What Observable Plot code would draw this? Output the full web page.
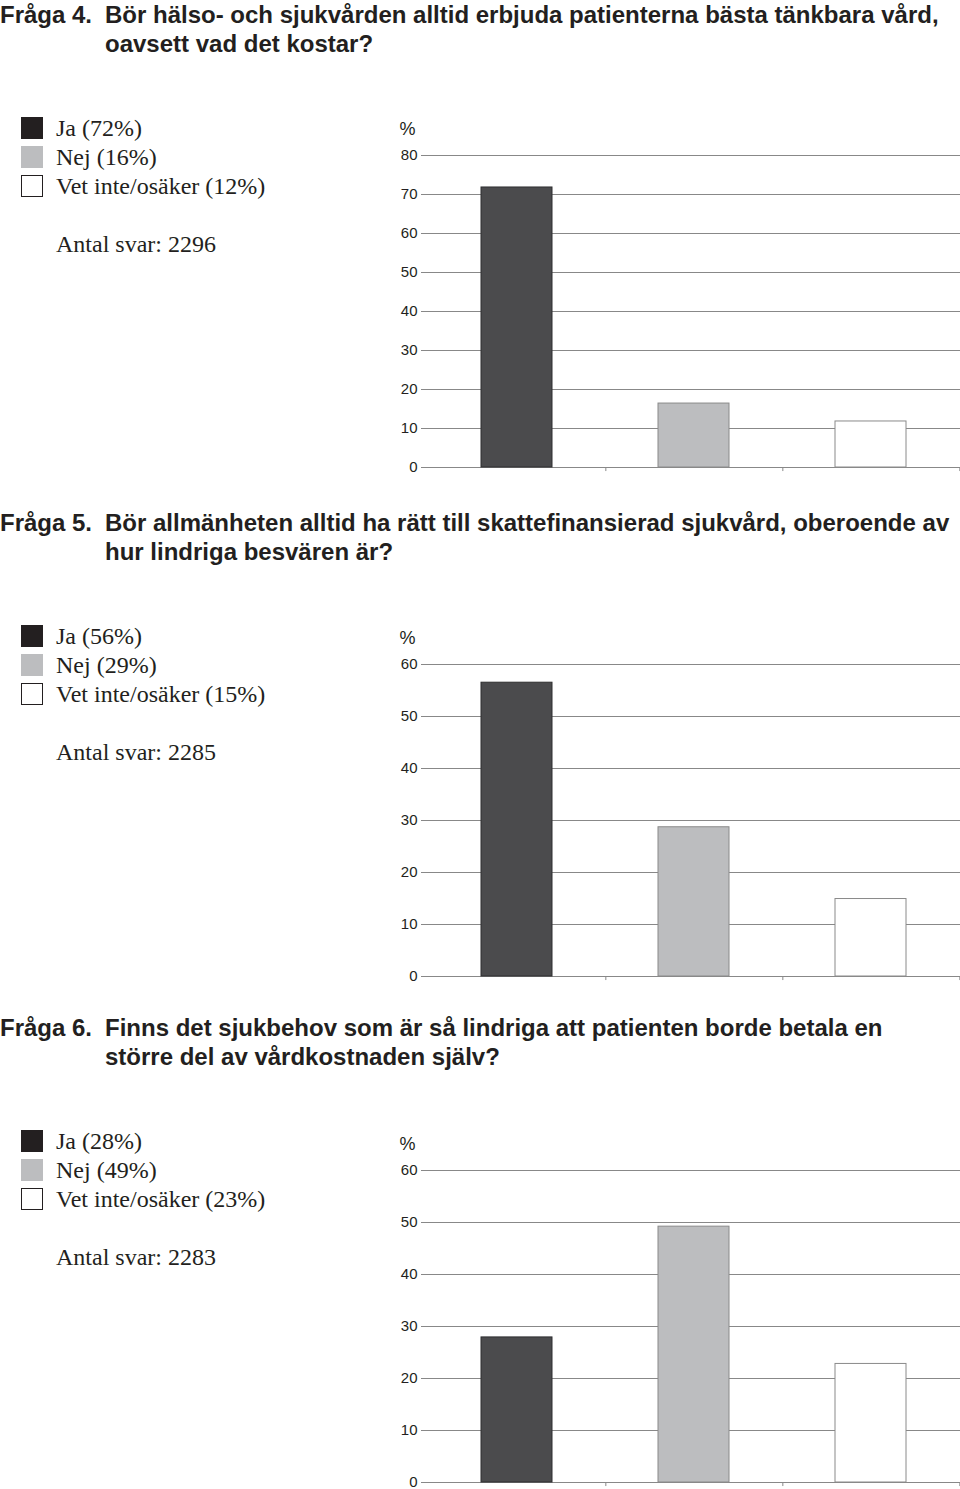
<!DOCTYPE html>
<html>
<head>
<meta charset="utf-8">
<script src="https://cdn.jsdelivr.net/npm/d3@7"></script>
<script src="https://cdn.jsdelivr.net/npm/@observablehq/plot@0.6"></script>
<style>
  html, body { margin: 0; padding: 0; background: #fff; overflow: hidden; }
  #page { position: relative; width: 960px; height: 1489px; color: #231f20; }
  .q-num, .q-text {
    position: absolute;
    font-family: "Liberation Sans", Arial, sans-serif;
    font-weight: bold;
    font-size: 24px;
    line-height: 29px;
    white-space: nowrap;
  }
  .legend {
    position: absolute;
    left: 0;
    font-family: "Liberation Serif", "DejaVu Serif", serif;
    font-size: 24px;
  }
  .leg-row { position: absolute; left: 0; height: 29px; white-space: nowrap; }
  .swatch { position: absolute; left: 21px; width: 22px; height: 22px; box-sizing: border-box; }
  .leg-label { position: absolute; left: 56px; top: -3px; line-height: 29px; }
  .count { position: absolute; left: 56px; white-space: nowrap; line-height: 29px; }
  .plot { position: absolute; left: 380px; }
</style>
</head>
<body>
<div id="page"></div>
<script>
// ---- data ----
const categories = ["Ja", "Nej", "Vet inte/osäker"];
const q4Values = [71.8, 16.4, 11.8];
const q5Values = [56.5, 28.7, 14.9];
const q6Values = [27.9, 49.2, 22.8];
const q4Ticks = [0, 10, 20, 30, 40, 50, 60, 70, 80];
const q5Ticks = [0, 10, 20, 30, 40, 50, 60];
const q6Ticks = [0, 10, 20, 30, 40, 50, 60];
const q4Legend = ["Ja (72%)", "Nej (16%)", "Vet inte/osäker (12%)"];
const q5Legend = ["Ja (56%)", "Nej (29%)", "Vet inte/osäker (15%)"];
const q6Legend = ["Ja (28%)", "Nej (49%)", "Vet inte/osäker (23%)"];
const q4Count = "Antal svar: 2296";
const q5Count = "Antal svar: 2285";
const q6Count = "Antal svar: 2283";
const q4Title = ["Fråga 4.", "Bör hälso- och sjukvården alltid erbjuda patienterna bästa tänkbara vård,", "oavsett vad det kostar?"];
const q5Title = ["Fråga 5.", "Bör allmänheten alltid ha rätt till skattefinansierad sjukvård, oberoende av", "hur lindriga besvären är?"];
const q6Title = ["Fråga 6.", "Finns det sjukbehov som är så lindriga att patienten borde betala en", "större del av vårdkostnaden själv?"];
const yLabel = "%";

// ---- styles ----
const barFill = ["#4b4b4d", "#bcbdbf", "#ffffff"];
const barStroke = ["#2e2e30", "#8a8a8a", "#8a8a8a"];
const swatchFill = ["#231f20", "#bcbdbf", "#ffffff"];
const swatchBorder = ["none", "none", "1px solid #231f20"];

const page = document.getElementById("page");

function panel(offset, title, legend, count, values, ticks, svgTop) {
  // title
  const num = document.createElement("div");
  num.className = "q-num";
  num.style.left = "0px";
  num.style.top = offset + "px";
  num.textContent = title[0];
  page.appendChild(num);
  const txt = document.createElement("div");
  txt.className = "q-text";
  txt.style.left = "105px";
  txt.style.top = offset + "px";
  const l1 = document.createElement("div"); l1.textContent = title[1];
  const l2 = document.createElement("div"); l2.textContent = title[2];
  txt.appendChild(l1); txt.appendChild(l2);
  page.appendChild(txt);

  // legend
  const leg = document.createElement("div");
  leg.className = "legend";
  leg.style.top = (offset + 117) + "px";
  legend.forEach((lab, i) => {
    const row = document.createElement("div");
    row.className = "leg-row";
    row.style.top = (i * 29) + "px";
    const sw = document.createElement("div");
    sw.className = "swatch";
    sw.style.top = "0px";
    sw.style.background = swatchFill[i];
    sw.style.border = swatchBorder[i];
    const tl = document.createElement("div");
    tl.className = "leg-label";
    tl.textContent = lab;
    row.appendChild(sw); row.appendChild(tl);
    leg.appendChild(row);
  });
  const cnt = document.createElement("div");
  cnt.className = "count";
  cnt.style.top = "113px";
  cnt.textContent = count;
  leg.appendChild(cnt);
  page.appendChild(leg);

  // chart
  const data = categories.map((c, i) => ({cat: c, value: values[i], fill: barFill[i], stroke: barStroke[i]}));
  const width = 580, marginLeft = 47, marginRight = 0;
  const step = (width - marginLeft - marginRight) / categories.length;
  const ymax = ticks[ticks.length - 1];
  const plotH = 312;
  const chart = Plot.plot({
    width,
    height: plotH + 45 + 7,
    marginLeft,
    marginRight,
    marginTop: 45,
    marginBottom: 7,
    style: {fontFamily: "'Liberation Sans', Arial, sans-serif", fontSize: "15px", color: "#231f20", background: "transparent", overflow: "visible"},
    x: {domain: categories, paddingInner: 0.6, paddingOuter: 0.3, axis: null},
    y: {domain: [0, ymax], axis: null},
    marks: [
      Plot.ruleY(ticks, {stroke: "#888", strokeWidth: 1}),
      Plot.axisY({ticks, tickSize: 6, tickPadding: 4, line: true, stroke: "#888", fill: "#231f20", fontSize: 15, label: null, tickFormat: d => String(d)}),
      Plot.ruleX(categories, {x: d => d, y1: 0, y2: -ymax * 0.013, dx: step / 2, stroke: "#888"}),
      Plot.barY(data, {x: "cat", y: "value", fill: d => d.fill, stroke: d => d.stroke, strokeWidth: 1}),
      Plot.text([yLabel], {frameAnchor: "top-left", dx: -20, dy: -26, text: d => d, fontSize: 18, textAnchor: "middle", lineAnchor: "middle", fill: "#231f20"})
    ]
  });
  chart.classList.add("plot");
  chart.style.top = svgTop + "px";
  chart.style.position = "absolute";
  page.appendChild(chart);
}

panel(0, q4Title, q4Legend, q4Count, q4Values, q4Ticks, 110);
panel(508, q5Title, q5Legend, q5Count, q5Values, q5Ticks, 619);
panel(1013, q6Title, q6Legend, q6Count, q6Values, q6Ticks, 1125);
</script>
</body>
</html>
